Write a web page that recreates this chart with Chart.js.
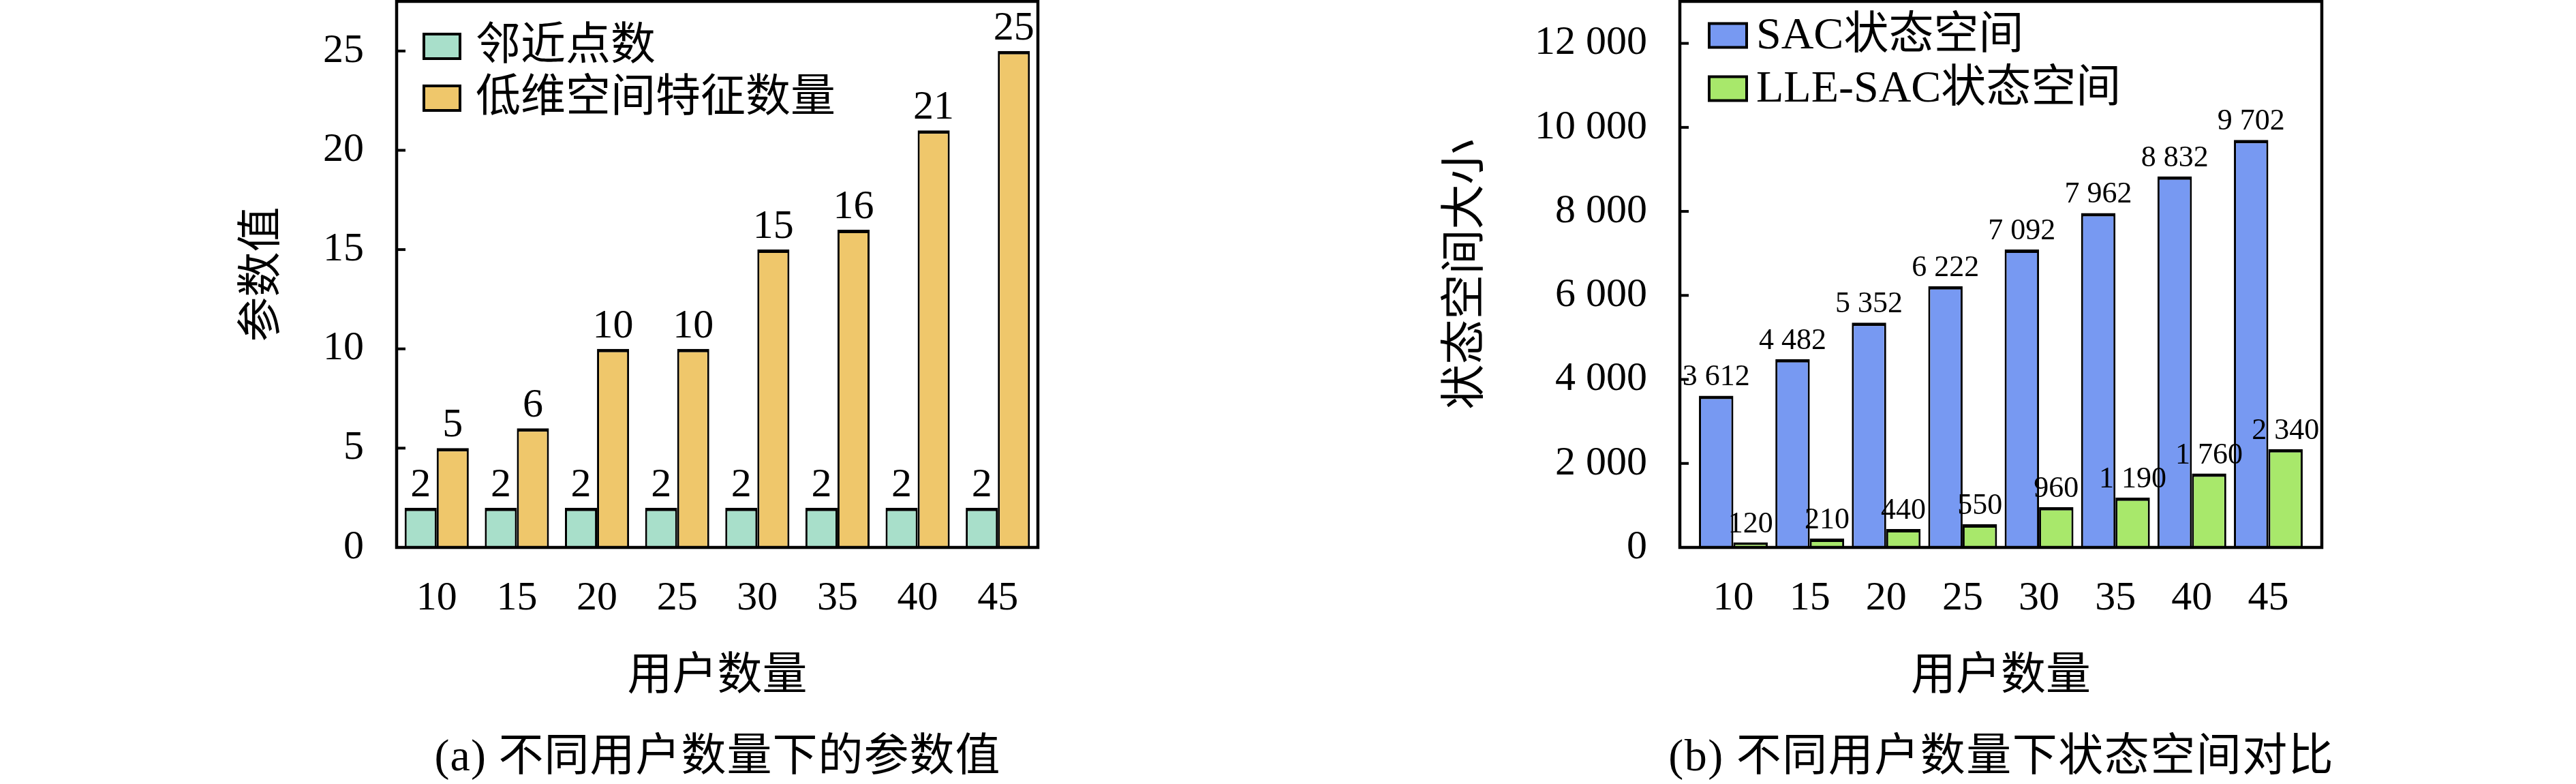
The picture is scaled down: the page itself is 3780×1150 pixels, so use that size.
<!DOCTYPE html>
<html><head><meta charset="utf-8">
<script src="https://cdn.jsdelivr.net/npm/chart.js@4.4.1/dist/chart.umd.min.js"></script>
<style>
html,body{margin:0;padding:0;background:#fff;}
#wrap{position:relative;width:3780px;height:1150px;background:#fff;}
canvas{position:absolute;top:0;}
</style></head><body>
<div id="wrap">
<canvas id="c1" width="1890" height="1150" style="left:0px"></canvas>
<canvas id="c2" width="1890" height="1150" style="left:1890px"></canvas>
</div>
<script>
// ---- data ----
const userCounts = [10, 15, 20, 25, 30, 35, 40, 45];
const neighborCounts = [2, 2, 2, 2, 2, 2, 2, 2];
const lowDimFeatureCounts = [5, 6, 10, 10, 15, 16, 21, 25];
const sacStateSpace = [3612, 4482, 5352, 6222, 7092, 7962, 8832, 9702];
const lleSacStateSpace = [120, 210, 440, 550, 960, 1190, 1760, 2340];
const leftYTicks = [0, 5, 10, 15, 20, 25];
const rightYTicks = [0, 2000, 4000, 6000, 8000, 10000, 12000];

// ---- styles ----
const FONT = '"Liberation Serif", "Noto Sans CJK SC", serif';
const fmtSpace = v => String(v).replace(/\B(?=(\d{3})+(?!\d))/g, ' ');
const fmtPlain = v => String(v);
const toXY = arr => arr.map((y, i) => ({ x: userCounts[i], y }));

const deco = {
  id: 'deco',
  afterDatasetsDraw(chart, args, o) {
    const { ctx, chartArea: a } = chart;
    const ys = chart.scales.y;
    ctx.save();
    ctx.strokeStyle = '#000';
    // inward y ticks
    ctx.lineWidth = 4;
    ys.ticks.forEach(t => {
      const py = ys.getPixelForValue(t.value);
      ctx.beginPath(); ctx.moveTo(a.left, py); ctx.lineTo(a.left + 13, py); ctx.stroke();
    });
    // frame
    ctx.lineWidth = 4.5;
    ctx.strokeRect(a.left, a.top, a.right - a.left, a.bottom - a.top);
    // value labels
    ctx.fillStyle = '#000';
    ctx.textAlign = 'center';
    ctx.textBaseline = 'alphabetic';
    ctx.font = o.labelSize + 'px ' + FONT;
    chart.data.datasets.forEach((ds, i) => {
      chart.getDatasetMeta(i).data.forEach((bar, j) => {
        ctx.fillText(o.fmt(ds.data[j].y), bar.x, bar.y - o.labelGap);
      });
    });
    // legend
    ctx.textAlign = 'left';
    ctx.textBaseline = 'middle';
    ctx.font = '66px ' + FONT;
    chart.data.datasets.forEach((ds, i) => {
      const cy = a.top + o.legendRows[i];
      const bx = a.left + o.legendX;
      ctx.fillStyle = ds.backgroundColor;
      ctx.fillRect(bx, cy - o.boxH / 2, o.boxW, o.boxH);
      ctx.lineWidth = 4;
      ctx.strokeRect(bx, cy - o.boxH / 2, o.boxW, o.boxH);
      ctx.fillStyle = '#000';
      ctx.fillText(ds.label, bx + o.boxW + o.textGap, cy + 2);
    });
    // caption
    ctx.font = '66px ' + FONT;
    ctx.textAlign = 'center';
    ctx.textBaseline = 'middle';
    try { ctx.letterSpacing = o.capSpacing + 'px'; } catch (e) {}
    ctx.fillText(o.caption, (a.left + a.right) / 2 + o.capSpacing / 2, o.captionY);
    ctx.restore();
  }
};

function makeChart(id, cfg) {
  return new Chart(document.getElementById(id), {
    type: 'bar',
    data: { datasets: cfg.datasets },
    options: {
      responsive: false,
      animation: false,
      devicePixelRatio: 1,
      layout: { padding: cfg.padding },
      datasets: { bar: { categoryPercentage: cfg.catPct, barPercentage: 1.0 } },
      scales: {
        x: {
          type: 'linear', min: cfg.xMin, max: cfg.xMax, offset: false,
          grid: { display: false, drawTicks: false }, border: { display: false },
          afterBuildTicks: s => { s.ticks = userCounts.map(v => ({ value: v })); },
          afterFit: s => { s.height = 230; s.paddingLeft = 0; s.paddingRight = 0; },
          ticks: { padding: 39, color: '#000', font: { family: FONT, size: 60 }, maxRotation: 0, autoSkip: false,
                   callback: v => String(v) },
          title: { display: true, text: '用户数量', color: '#000', font: { family: FONT, size: 66 }, padding: 0 }
        },
        y: {
          type: 'linear', min: 0, max: cfg.yMax,
          grid: { display: false, drawTicks: false }, border: { display: false },
          afterBuildTicks: s => { s.ticks = cfg.yTicks.map(v => ({ value: v })); },
          afterFit: s => { s.width = cfg.yWidth; s.paddingTop = 0; s.paddingBottom = 0; },
          ticks: { padding: 48, color: '#000', font: { family: FONT, size: 60 }, callback: v => cfg.tickFmt(v) },
          title: { display: true, text: cfg.yTitle, color: '#000', font: { family: FONT, size: 66 }, padding: 0 }
        }
      },
      plugins: {
        legend: { display: false },
        tooltip: { enabled: false },
        deco: cfg.deco
      }
    },
    plugins: [deco]
  });
}

const barBorder = { top: 5, left: 3, right: 3, bottom: 0 };

makeChart('c1', {
  datasets: [
    { label: '邻近点数', data: toXY(neighborCounts), backgroundColor: '#a8dfca', borderColor: '#000', borderWidth: barBorder },
    { label: '低维空间特征数量', data: toXY(lowDimFeatureCounts), backgroundColor: '#efc76b', borderColor: '#000', borderWidth: barBorder }
  ],
  padding: { left: 347, right: 367, top: 2, bottom: 117 },
  yWidth: 235,
  xMin: 7.5, xMax: 47.5, catPct: 0.8,
  yMax: 27.5, yTicks: leftYTicks, tickFmt: fmtPlain,
  yTitle: '参数值',
  deco: { labelSize: 60, labelGap: 17, fmt: fmtPlain, legendX: 40, legendRows: [66, 142], boxW: 53, boxH: 36, textGap: 23,
          caption: '(a) 不同用户数量下的参数值', captionY: 1113, capSpacing: 1 }
});

makeChart('c2', {
  datasets: [
    { label: 'SAC状态空间', data: toXY(sacStateSpace), backgroundColor: '#7799f2', borderColor: '#000', borderWidth: barBorder },
    { label: 'LLE-SAC状态空间', data: toXY(lleSacStateSpace), backgroundColor: '#a8e86b', borderColor: '#000', borderWidth: barBorder }
  ],
  padding: { left: 223, right: 373, top: 2, bottom: 117 },
  yWidth: 352,
  xMin: 6.5, xMax: 48.5, catPct: 0.9,
  yMax: 13000, yTicks: rightYTicks, tickFmt: fmtSpace,
  yTitle: '状态空间大小',
  deco: { labelSize: 44, labelGap: 15, fmt: fmtSpace, legendX: 43, legendRows: [50, 128], boxW: 55, boxH: 35, textGap: 14,
          caption: '(b) 不同用户数量下状态空间对比', captionY: 1113, capSpacing: 1.5 }
});
</script>
</body></html>
